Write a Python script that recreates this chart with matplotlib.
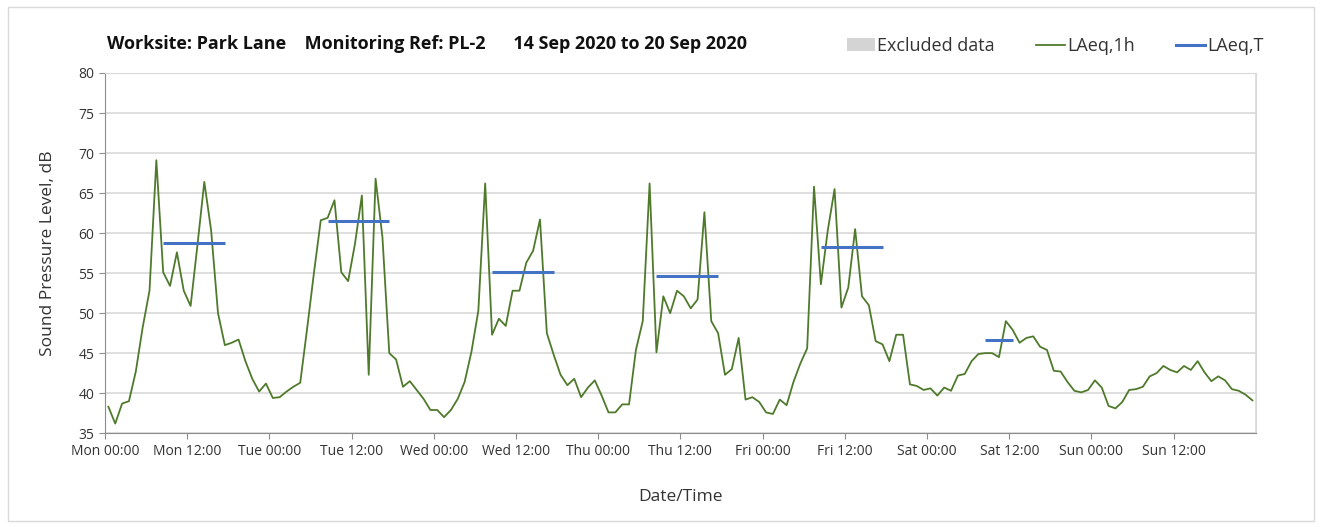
import matplotlib
matplotlib.use("Agg")
import matplotlib.pyplot as plt
from matplotlib.patches import Patch, Rectangle
from matplotlib.lines import Line2D
import numpy as np

plt.rcParams['font.family'] = ['Open Sans', 'DejaVu Sans']

# Hourly LAeq,1h values (dB), one list per day
mon = [38.3, 36.2, 38.7, 39.0, 42.7, 48.2, 52.8, 69.1, 55.1, 53.4, 57.6, 52.8,
       50.9, 58.5, 66.4, 60.3, 50.0, 46.0, 46.3, 46.7, 44.0, 41.8, 40.2, 41.2]
tue = [39.4, 39.5, 40.2, 40.8, 41.3, 48.0, 55.0, 61.6, 61.9, 64.1, 55.1, 54.0,
       58.7, 64.7, 42.3, 66.8, 59.5, 45.0, 44.2, 40.8, 41.5, 40.4, 39.3, 37.9]
wed = [37.9, 37.0, 37.9, 39.3, 41.4, 45.2, 50.3, 66.2, 47.3, 49.3, 48.4, 52.8,
       52.8, 56.3, 57.8, 61.7, 47.5, 44.8, 42.3, 41.0, 41.8, 39.5, 40.7, 41.6]
thu = [39.7, 37.6, 37.6, 38.6, 38.6, 45.4, 49.0, 66.2, 45.1, 52.1, 50.0, 52.8,
       52.1, 50.6, 51.7, 62.6, 49.0, 47.5, 42.3, 43.0, 46.9, 39.2, 39.5, 38.9]
fri = [37.6, 37.4, 39.2, 38.5, 41.4, 43.7, 45.6, 65.8, 53.6, 60.3, 65.5, 50.7,
       53.2, 60.5, 52.1, 51.0, 46.5, 46.1, 44.0, 47.3, 47.3, 41.1, 40.9, 40.4]
sat = [40.6, 39.7, 40.7, 40.3, 42.2, 42.4, 44.0, 44.9, 45.0, 45.0, 44.5, 49.0,
       47.9, 46.3, 46.9, 47.1, 45.8, 45.4, 42.8, 42.7, 41.4, 40.3, 40.1, 40.4]
sun = [41.6, 40.7, 38.4, 38.1, 38.9, 40.4, 40.5, 40.8, 42.1, 42.5, 43.4, 42.9,
       42.6, 43.4, 42.9, 44.0, 42.6, 41.5, 42.1, 41.6, 40.5, 40.3, 39.8, 39.1]

# LAeq,T period values per working day
laeqT_values = [58.8, 61.5, 55.1, 54.7, 58.2, 46.7]
laeqT_start_hour = [8, 8, 8, 8, 8, 8]
laeqT_end_hour = [18, 18, 18, 18, 18, 13]

day_names = ['Mon', 'Tue', 'Wed', 'Thu', 'Fri', 'Sat', 'Sun']
tick_labels = [f'{d} {t}' for d in day_names for t in ('00:00', '12:00')]
title_text = 'Worksite: Park Lane    Monitoring Ref: PL-2      14 Sep 2020 to 20 Sep 2020'

levels = mon + tue + wed + thu + fri + sat + sun
hours = np.arange(len(levels)) + 0.5

green = '#4f7a2c'
blue = '#4472c4'
grid_c = '#d9d9d9'

fig = plt.figure(figsize=(13.22, 5.27), dpi=100)
fig.patches.append(Rectangle((0.006, 0.012), 0.988, 0.974, transform=fig.transFigure,
                             fill=False, edgecolor='#d9d9d9', linewidth=1))
ax = fig.add_axes([0.0794, 0.178, 0.8706, 0.6835])

ax.plot(hours, levels, color=green, linewidth=1.3, zorder=3)
for d, (v, s, e) in enumerate(zip(laeqT_values, laeqT_start_hour, laeqT_end_hour)):
    ax.plot([d * 24 + s + 0.5, d * 24 + e - 0.5], [v, v], color=blue, linewidth=2.2,
            solid_capstyle='butt', zorder=4)

ax.set_xlim(0, 168)
ax.set_ylim(35, 80)
ax.set_yticks(np.arange(35, 81, 5))
ax.set_xticks(np.arange(0, 168, 12))
ax.set_xticklabels(tick_labels)
ax.set_xticks(np.arange(0, 169, 24), minor=True)
ax.tick_params(axis='x', which='minor', length=0)
ax.grid(axis='y', color=grid_c, linewidth=1.2)
ax.grid(axis='x', which='minor', color=grid_c, linewidth=1.2)
ax.set_axisbelow(True)
for side in ('top', 'right'):
    ax.spines[side].set_color(grid_c)
for side in ('left', 'bottom'):
    ax.spines[side].set_color('#8c8c8c')
ax.tick_params(axis='both', which='major', colors='#8c8c8c', labelcolor='#333333',
               labelsize=10, length=4)

ax.set_ylabel('Sound Pressure Level, dB', fontsize=12.5, color='#333333', labelpad=16)
ax.set_xlabel('Date/Time', fontsize=12.5, color='#333333', labelpad=22)

fig.text(0.081, 0.917, title_text, fontsize=13, fontweight='bold', color='#111111',
         ha='left', va='center')

handles = [Patch(facecolor='#d4d4d4', edgecolor='none'),
           Line2D([], [], color=green, linewidth=1.3),
           Line2D([], [], color=blue, linewidth=2.2)]
fig.legend(handles, ['Excluded data', 'LAeq,1h', 'LAeq,T'], ncol=3, frameon=False,
           loc='center right', bbox_to_anchor=(0.968, 0.913), fontsize=13,
           handlelength=1.6, handletextpad=0.1, columnspacing=2.3,
           labelcolor='#333333')

fig.savefig('out.png', dpi=100)
